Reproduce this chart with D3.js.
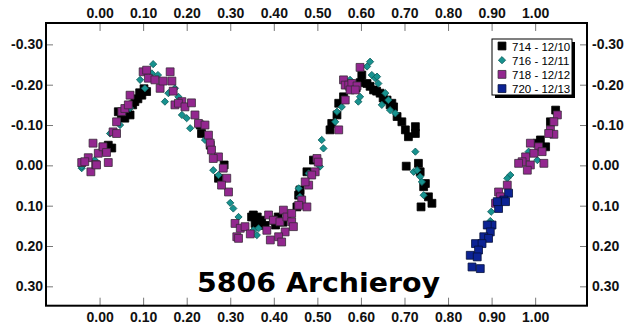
<!DOCTYPE html>
<html>
<head>
<meta charset="utf-8">
<script src="https://cdn.jsdelivr.net/npm/d3@7"></script>
<style>
  body { margin: 0; background: #fff; }
  svg { display: block; }
  .tick text { font-family: "Liberation Sans", Arial, sans-serif; font-weight: bold; font-size: 14px; fill: #111; }
</style>
</head>
<body>
<figure id="chart" style="margin:0"></figure>
<script>
// phase / magnitude pairs per session
const s714 = [
  [0.008,-0.045],[0.028,-0.043],[0.014,-0.038],[0.043,-0.133],[0.058,-0.117],[0.070,-0.125],
  [0.081,-0.158],[0.097,-0.174],[0.108,-0.183],[0.088,-0.165],[0.234,-0.079],[0.231,-0.100],
  [0.273,0.032],[0.349,0.128],[0.353,0.123],[0.369,0.144],[0.357,0.144],[0.399,0.136],
  [0.457,0.074],[0.460,0.061],[0.453,0.103],[0.529,-0.088],[0.533,-0.104],[0.545,-0.125],
  [0.549,-0.154],[0.560,-0.170],[0.614,-0.203],[0.629,-0.187],[0.644,-0.179],[0.660,-0.162],
  [0.675,-0.145],[0.683,-0.121],[0.602,-0.224],[0.491,-0.013],[0.476,0.016],[0.460,0.069],
  [0.651,-0.167],[0.671,-0.154],[0.694,-0.108],[0.702,-0.088],[0.709,-0.071],[0.725,-0.096],
  [0.725,-0.079],[0.732,-0.005],[0.704,0.002],[0.736,0.016],[0.748,0.045],[0.755,0.078],
  [0.763,0.094],[0.738,0.103],[0.744,0.053],[1.047,-0.137],[1.035,-0.108],[1.005,-0.055],
  [1.024,-0.046],[0.575,-0.194],[0.589,-0.192],[0.380,0.149],[0.421,0.141],[0.254,-0.050],
  [0.286,-0.001],[1.012,-0.063],[0.050,-0.128],[0.064,-0.140],[0.076,-0.150],[0.092,-0.180],
  [0.102,-0.190],[0.020,-0.050],[0.362,0.128],[0.372,0.136],[0.404,0.148],[0.410,0.128],
  [0.598,-0.205],[0.621,-0.196],[0.636,-0.184],[0.667,-0.150]
];
const s716 = [
  [-0.041,0.007],[-0.041,0.003],[0.024,-0.079],[0.093,-0.212],[0.104,-0.191],[0.120,-0.228],
  [0.123,-0.251],[0.150,-0.158],[0.158,-0.179],[0.181,-0.170],[0.189,-0.125],[0.134,-0.224],
  [0.173,-0.191],[0.200,-0.117],[0.208,-0.092],[0.242,-0.063],[0.257,-0.038],[0.261,0.012],
  [0.273,0.024],[0.300,0.093],[0.307,0.107],[0.319,0.128],[0.361,0.173],[0.365,0.156],
  [0.353,0.161],[0.460,0.078],[0.480,0.020],[0.457,0.057],[0.506,0.003],[0.510,-0.063],
  [0.514,-0.042],[0.541,-0.108],[0.545,-0.133],[0.556,-0.145],[0.594,-0.158],[0.598,-0.170],
  [0.575,-0.212],[0.614,-0.245],[0.621,-0.257],[0.625,-0.224],[0.633,-0.216],[0.640,-0.203],
  [0.637,-0.220],[0.656,-0.179],[0.663,-0.162],[0.648,-0.150],[0.667,-0.137],[0.679,-0.129],
  [0.725,-0.034],[0.721,0.016],[0.729,0.012],[0.736,0.028],[0.740,0.041],[0.744,0.074],
  [0.943,0.024],[0.936,0.032],[1.005,-0.013],[0.899,0.115],[0.897,0.138],[0.985,-0.034],
  [-0.011,-0.013],[0.047,-0.100],[0.070,-0.142]
];
const s718 = [
  [-0.041,-0.007],[-0.026,-0.019],[-0.020,0.016],[-0.009,-0.002],[-0.015,-0.055],[-0.003,-0.030],
  [0.008,-0.046],[0.016,-0.032],[0.020,-0.007],[-0.034,-0.009],[-0.007,-0.001],[0.031,-0.083],
  [0.039,-0.079],[0.039,-0.108],[0.051,-0.133],[0.058,-0.141],[0.066,-0.150],[0.070,-0.174],
  [0.100,-0.232],[0.108,-0.236],[0.112,-0.216],[0.127,-0.212],[0.139,-0.191],[0.146,-0.209],
  [0.162,-0.232],[0.166,-0.209],[0.169,-0.184],[0.173,-0.150],[0.189,-0.158],[0.181,-0.154],
  [0.196,-0.145],[0.211,-0.155],[0.219,-0.125],[0.227,-0.104],[0.242,-0.100],[0.250,-0.075],
  [0.254,-0.055],[0.257,-0.038],[0.273,-0.021],[0.261,-0.017],[0.284,0.007],[0.292,0.032],
  [0.296,0.066],[0.280,0.049],[0.311,0.144],[0.323,0.156],[0.334,0.152],[0.346,0.170],
  [0.315,0.177],[0.319,0.181],[0.384,0.161],[0.388,0.123],[0.392,0.185],[0.399,0.136],
  [0.414,0.140],[0.422,0.111],[0.430,0.128],[0.441,0.119],[0.441,0.140],[0.445,0.152],
  [0.426,0.165],[0.411,0.177],[0.418,0.190],[0.464,0.086],[0.476,0.103],[0.480,0.049],
  [0.495,0.016],[0.487,0.024],[0.457,0.099],[0.472,0.041],[0.499,-0.017],[0.502,-0.008],
  [0.549,-0.088],[0.564,-0.162],[0.560,-0.212],[0.564,-0.199],[0.572,-0.199],[0.579,-0.203],
  [0.591,-0.197],[0.575,-0.187],[0.587,-0.187],[0.598,-0.243],[1.051,-0.125],[1.043,-0.108],
  [1.035,-0.088],[1.043,-0.077],[1.031,-0.079],[0.989,-0.055],[1.008,-0.046],[1.016,-0.034],
  [0.997,-0.030],[1.020,-0.005],[0.978,-0.021],[0.970,-0.009],[0.962,-0.005],[0.989,-0.001],
  [0.982,0.012],[0.936,0.049],[0.916,0.066],[0.920,0.078],[0.909,0.094]
];
const s720 = [
  [0.939,0.069],[0.928,0.086],[0.916,0.107],[0.932,0.090],[0.913,0.090],[0.901,0.148],
  [0.890,0.148],[0.897,0.165],[0.882,0.177],[0.893,0.181],[0.863,0.194],[0.878,0.194],
  [0.870,0.210],[0.851,0.223],[0.867,0.227],[0.855,0.252],[0.874,0.256]
];

const seriesNames = ["714 - 12/10", "716 - 12/11", "718 - 12/12", "720 - 12/13"];
const xTicks = [0, 0.1, 0.2, 0.3, 0.4, 0.5, 0.6, 0.7, 0.8, 0.9, 1.0];
const yTicks = [-0.3, -0.2, -0.1, 0, 0.1, 0.2, 0.3];
const title = "5806 Archieroy";

const series = [
  { name: seriesNames[0], data: s714, shape: "square", fill: "#000000", stroke: "#000000" },
  { name: seriesNames[1], data: s716, shape: "diamond", fill: "#17928f", stroke: "#0d5e5c" },
  { name: seriesNames[2], data: s718, shape: "square", fill: "#93278f", stroke: "#3a2a3a" },
  { name: seriesNames[3], data: s720, shape: "square", fill: "#0c2394", stroke: "#05103a" }
];

const width = 629, height = 333;
const plotLeft = 46, plotRight = 587, plotTop = 23, plotBottom = 305.7;

const svg = d3.select("#chart").append("svg")
  .attr("width", width)
  .attr("height", height);

const x = d3.scaleLinear().domain([-0.123, 1.119]).range([plotLeft, plotRight]);
const y = d3.scaleLinear().domain([-0.353, 0.348]).range([plotTop, plotBottom]);
const fmt = d => d.toFixed(2);

function styleAxis(g) {
  g.select(".domain").remove();
  g.selectAll(".tick line").attr("stroke", "#777").attr("stroke-width", 1);
}

svg.append("g")
  .attr("transform", `translate(0,${plotTop})`)
  .call(d3.axisTop(x).tickValues(xTicks).tickFormat(fmt).tickSize(-8).tickPadding(5))
  .call(styleAxis);

svg.append("g")
  .attr("transform", `translate(0,${plotBottom})`)
  .call(d3.axisBottom(x).tickValues(xTicks).tickFormat(fmt).tickSize(-8).tickPadding(6))
  .call(styleAxis);

svg.append("g")
  .attr("transform", `translate(${plotLeft},0)`)
  .call(d3.axisLeft(y).tickValues(yTicks).tickFormat(fmt).tickSize(-7).tickPadding(3))
  .call(styleAxis);

svg.append("g")
  .attr("transform", `translate(${plotRight},0)`)
  .call(d3.axisRight(y).tickValues(yTicks).tickFormat(fmt).tickSize(-7).tickPadding(5))
  .call(styleAxis);

svg.append("rect")
  .attr("x", plotLeft).attr("y", plotTop)
  .attr("width", plotRight - plotLeft).attr("height", plotBottom - plotTop)
  .attr("fill", "none").attr("stroke", "#000").attr("stroke-width", 2);

const sq = d3.symbol().type(d3.symbolSquare).size(62);
const dm = d3.symbol().type(d3.symbolSquare).size(26);

function drawMark(sel, s) {
  const diamond = s.shape === "diamond";
  sel.append("path")
    .attr("d", diamond ? dm() : sq())
    .attr("transform", diamond ? "rotate(45)" : null)
    .attr("fill", s.fill)
    .attr("stroke", s.stroke)
    .attr("stroke-width", 0.8);
}

const plot = svg.append("g");
series.forEach(s => {
  plot.append("g").selectAll("g")
    .data(s.data)
    .enter()
    .append("g")
    .attr("transform", d => `translate(${x(d[0])},${y(d[1])})`)
    .each(function() { drawMark(d3.select(this), s); });
});

// title
svg.append("text")
  .attr("x", 197).attr("y", 292)
  .attr("textLength", 243).attr("lengthAdjust", "spacingAndGlyphs")
  .style("font-family", "'DejaVu Sans', sans-serif")
  .style("font-weight", "bold")
  .style("font-size", "27px")
  .attr("fill", "#000")
  .text(title);

// legend
const lg = svg.append("g").attr("transform", "translate(492,39)");
lg.append("rect").attr("x", 3).attr("y", 3).attr("width", 80).attr("height", 56).attr("fill", "#000");
lg.append("rect").attr("width", 80).attr("height", 56).attr("fill", "#fff").attr("stroke", "#000").attr("stroke-width", 1);
series.forEach((s, i) => {
  const row = lg.append("g").attr("transform", `translate(10,${7 + i * 14.2})`);
  drawMark(row, s);
  row.append("text")
    .attr("x", 10).attr("y", 4.5)
    .style("font-family", "'Liberation Sans', Arial, sans-serif")
    .style("font-size", "11.5px")
    .attr("fill", "#000")
    .text(s.name);
});
</script>
</body>
</html>
